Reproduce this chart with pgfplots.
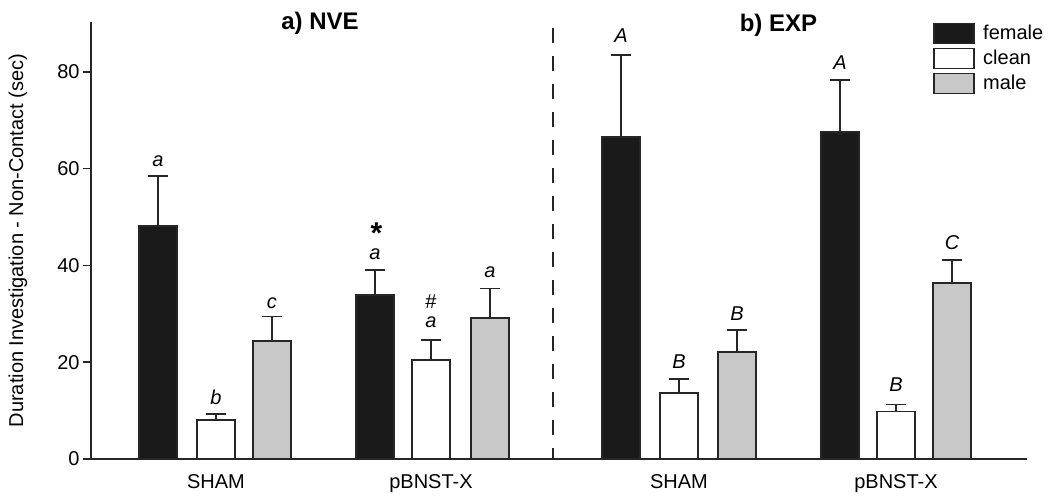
\documentclass[border=0pt]{standalone}
\usepackage{pgfplots}
\pgfplotsset{compat=1.18}
\usepackage{pgfplotstable}
\usepackage{fontspec}
\setmainfont{Liberation Sans}
\definecolor{fem}{HTML}{1A1A1A}
\definecolor{mal}{HTML}{C8C8C8}
\definecolor{edge}{HTML}{262626}

% x = bar position, y = mean, e = upper SEM
\pgfplotstableread{
x y e
158 48.2 10.3
375 33.9 5.2
621 66.5 17.0
840 67.5 10.8
}\female
\pgfplotstableread{
x y e
216 8.1 1.2
431 20.5 4.1
679 13.6 2.9
896 9.8 1.5
}\clean
\pgfplotstableread{
x y e
272 24.3 5.1
490 29.2 6.0
737 22.1 4.6
952 36.4 4.7
}\male

\begin{document}
\begin{tikzpicture}[font=\fontsize{10}{12}\selectfont]
\begin{axis}[
  scale only axis, width=468pt, height=218.5pt,
  xmin=91, xmax=1027, ymin=0, ymax=90.3,
  axis lines=left,
  axis line style={-, line width=0.75pt, color=edge},
  clip=false,
  tick align=outside,
  ytick={0,20,40,60,80},
  y tick style={line width=0.75pt, color=edge},
  major tick length=4pt,
  xtick={216,431,679,896},
  xticklabels={SHAM,pBNST-X,SHAM,pBNST-X},
  x tick style={draw=none},
  tick label style={font=\fontsize{10}{12}\selectfont},
  yticklabel style={inner sep=1.5pt},
  xticklabel style={inner sep=0pt, yshift=-3.5pt},
  /pgf/number format/assume math mode=true,
  ylabel={Duration Investigation - Non-Contact (sec)},
  ylabel style={font=\fontsize{10}{12}\selectfont},
  ylabel shift=10pt,
  legend cell align=left,
  legend style={at={(axis cs:933,90.6)}, anchor=north west, draw=none, fill=none,
    inner sep=0pt, row sep=0pt, column sep=4pt,
    nodes={inner sep=0pt, minimum height=12.5pt},
    font=\fontsize{10}{12}\selectfont},
  legend image code/.code={\draw[#1] (0pt,-5pt) rectangle (20pt,5pt);},
  every axis plot/.append style={ybar, bar width=19pt, bar shift=0pt, line width=0.9pt, draw=edge},
  error bars/y dir=plus, error bars/y explicit,
  error bars/error mark options={rotate=90, mark size=5pt, line width=0.75pt, edge},
  error bars/error bar style={line width=0.75pt, color=edge},
]
\addplot[fill=fem] table[x=x, y=y, y error=e] {\female};
\addlegendentry{female}
\addplot[fill=white] table[x=x, y=y, y error=e] {\clean};
\addlegendentry{clean}
\addplot[fill=mal] table[x=x, y=y, y error=e] {\male};
\addlegendentry{male}

\draw[edge, line width=0.75pt, dash pattern=on 7.5pt off 6.5pt] (axis cs:553,89.1) -- (axis cs:553,0);

\node[anchor=base, font=\bfseries\fontsize{12}{14}\selectfont] at (axis cs:320,88.7) {a) NVE};
\node[anchor=base, font=\bfseries\fontsize{12}{14}\selectfont] at (axis cs:778.5,88.4) {b) EXP};

\node[anchor=base, font=\itshape] at (axis cs:158,60.4) {a};
\node[anchor=base, font=\itshape] at (axis cs:216,11.2) {b};
\node[anchor=base, font=\itshape] at (axis cs:272,31.2) {c};
\node[anchor=base, inner sep=1pt, font=\itshape] at (axis cs:375,41.3) {a};
\node[anchor=base, inner sep=0pt, font=\bfseries\fontsize{15}{15}\selectfont] at (axis cs:376.5,44.6) {*};
\node[anchor=base, font=\itshape] at (axis cs:431,27.1) {a};
\node[anchor=base, inner sep=0pt] at (axis cs:431,31.2) {\#};
\node[anchor=base, font=\itshape] at (axis cs:490,37.4) {a};
\node[anchor=base, font=\itshape] at (axis cs:621,86.0) {A};
\node[anchor=base, font=\itshape] at (axis cs:679,18.8) {B};
\node[anchor=base, font=\itshape] at (axis cs:737,28.7) {B};
\node[anchor=base, font=\itshape] at (axis cs:840,80.4) {A};
\node[anchor=base, font=\itshape] at (axis cs:896,13.9) {B};
\node[anchor=base, font=\itshape] at (axis cs:952,43.2) {C};
\end{axis}
\path ([xshift=-45.5pt,yshift=-19pt]current axis.origin) rectangle ([xshift=479.5pt,yshift=229.5pt]current axis.origin);
\end{tikzpicture}
\end{document}
